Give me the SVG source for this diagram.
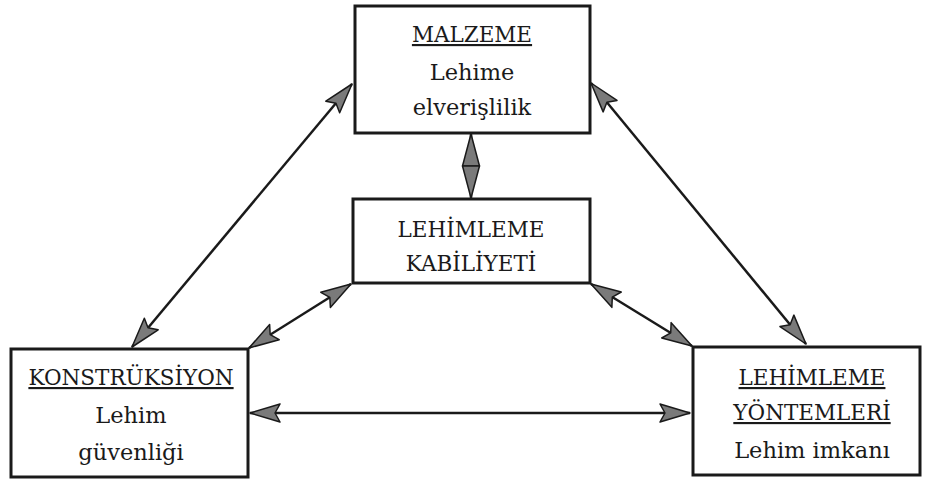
<svg xmlns="http://www.w3.org/2000/svg" width="925" height="482" viewBox="0 0 925 482">
<style>
.box{fill:#fff;stroke:#1a1a1a;stroke-width:3}
.t{font-family:"DejaVu Serif","Liberation Serif",serif;font-size:21.5px;fill:#1a1a1a;text-anchor:middle}
.l{font-size:22.5px}
.u{text-decoration:underline}
.c{stroke:#1a1a1a;stroke-width:2.5;fill:none;marker-start:url(#ah);marker-end:url(#ah)}
.d{stroke:#1a1a1a;stroke-width:2.5;fill:none;marker-start:url(#dh);marker-end:url(#dh)}
</style>
<defs>
<marker id="ah" markerUnits="userSpaceOnUse" markerWidth="40" markerHeight="24" refX="32" refY="12" orient="auto-start-reverse">
<path d="M32,12 L2,3 L7,12 L2,21 Z" fill="#7a7a7a" stroke="#1a1a1a" stroke-width="1.5" stroke-linejoin="round"/>
</marker>
<marker id="dh" markerUnits="userSpaceOnUse" markerWidth="40" markerHeight="24" refX="33" refY="12" orient="auto-start-reverse">
<path d="M33,12 L1,3.5 L1,20.5 Z" fill="#7a7a7a" stroke="#1a1a1a" stroke-width="1.5" stroke-linejoin="round"/>
</marker>
</defs>
<g id="connectors">
<line class="c" x1="352" y1="84" x2="132" y2="347"/>
<line class="c" x1="591" y1="83" x2="806" y2="344"/>
<line class="d" x1="471" y1="134" x2="471" y2="198"/>
<line class="c" x1="351" y1="284" x2="249" y2="348"/>
<line class="c" x1="591" y1="284" x2="692" y2="346"/>
<line class="c" x1="250" y1="413" x2="690" y2="413"/>
</g>
<g id="malzeme">
<rect class="box" x="355" y="6" width="235" height="127"/>
<text class="t u" x="472" y="42">MALZEME</text>
<text class="t l" x="472" y="80">Lehime</text>
<text class="t l" x="472" y="115">elverişlilik</text>
</g>
<g id="kabiliyet">
<rect class="box" x="353" y="199" width="237" height="84"/>
<text class="t" x="471" y="237">LEHİMLEME</text>
<text class="t" x="471" y="271">KABİLİYETİ</text>
</g>
<g id="konstruksiyon">
<rect class="box" x="11" y="349" width="237" height="128"/>
<text class="t u" x="131" y="385">KONSTRÜKSİYON</text>
<text class="t l" x="131" y="423">Lehim</text>
<text class="t l" x="131" y="460">güvenliği</text>
</g>
<g id="yontemleri">
<rect class="box" x="693" y="347" width="227" height="128"/>
<text class="t u" x="812" y="385">LEHİMLEME</text>
<text class="t u" x="812" y="420">YÖNTEMLERİ</text>
<text class="t l" x="812" y="458">Lehim imkanı</text>
</g>
</svg>
